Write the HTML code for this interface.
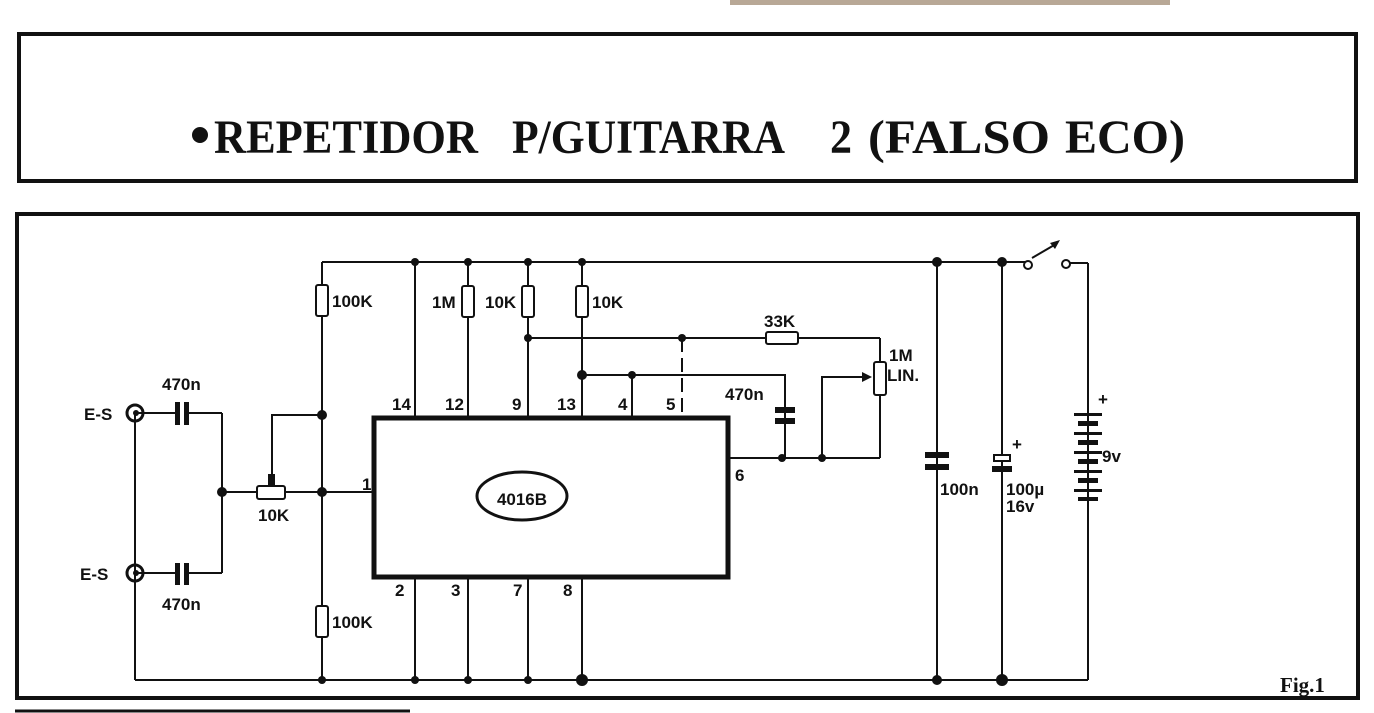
<!DOCTYPE html>
<html><head><meta charset="utf-8"><style>
html,body{margin:0;padding:0;background:#fff;}
svg{display:block;}
.t{font-family:"Liberation Sans",sans-serif;font-weight:bold;font-size:17px;fill:#111;}
.h{font-family:"Liberation Serif",serif;font-weight:bold;font-size:48px;fill:#111;}
</style></head><body>
<svg width="1374" height="713" viewBox="0 0 1374 713" xmlns="http://www.w3.org/2000/svg">
<rect width="1374" height="713" fill="#fff"/>
<rect x="730" y="0" width="440" height="5" fill="#b8a896"/>
<rect x="19" y="34" width="1337" height="147" fill="none" stroke="#111" stroke-width="4"/>
<circle cx="200" cy="135" r="8" fill="#111"/>
<text x="214" y="153" class="h" textLength="264" lengthAdjust="spacingAndGlyphs">REPETIDOR</text>
<text x="512" y="153" class="h" textLength="273" lengthAdjust="spacingAndGlyphs">P/GUITARRA</text>
<text x="830" y="153" class="h" textLength="22" lengthAdjust="spacingAndGlyphs">2</text>
<text x="868" y="153" class="h" textLength="182" lengthAdjust="spacingAndGlyphs">(FALSO</text>
<text x="1065" y="153" class="h" textLength="120" lengthAdjust="spacingAndGlyphs">ECO)</text>
<rect x="17" y="214" width="1341" height="484" fill="none" stroke="#111" stroke-width="4"/>
<line x1="15" y1="711" x2="410" y2="711" stroke="#111" stroke-width="3"/>
<g stroke="#111" stroke-width="2" fill="none">
<line x1="322" y1="262" x2="1028" y2="262"/>
<line x1="1065" y1="263" x2="1088" y2="263"/><line x1="1088" y1="263" x2="1088" y2="680"/>
<line x1="135" y1="680" x2="1088" y2="680"/>
<line x1="322" y1="262" x2="322" y2="680"/>
<line x1="135" y1="413" x2="135" y2="680"/>
<line x1="135" y1="413" x2="176" y2="413"/><line x1="188" y1="413" x2="222" y2="413"/>
<line x1="135" y1="573" x2="176" y2="573"/><line x1="188" y1="573" x2="222" y2="573"/>
<line x1="222" y1="413" x2="222" y2="573"/>
<line x1="222" y1="492" x2="374" y2="492"/>
<polyline points="272,486 272,415 322,415"/>
<line x1="415" y1="262" x2="415" y2="680"/>
<line x1="468" y1="262" x2="468" y2="680"/>
<line x1="528" y1="262" x2="528" y2="680"/>
<line x1="582" y1="262" x2="582" y2="680"/>
<line x1="632" y1="375" x2="632" y2="417"/>
<line x1="682" y1="338" x2="682" y2="417" stroke-dasharray="14,6"/>
<line x1="528" y1="338" x2="880" y2="338"/>
<line x1="880" y1="338" x2="880" y2="458"/>
<polyline points="582,375 785,375 785,458"/>
<line x1="728" y1="458" x2="880" y2="458"/>
<polyline points="822,458 822,377 868,377"/>
<line x1="937" y1="262" x2="937" y2="680"/>
<line x1="1002" y1="262" x2="1002" y2="680"/>
<line x1="1032" y1="258" x2="1056" y2="244"/>
</g>
<rect x="374" y="418" width="354" height="159" fill="#fff" stroke="#111" stroke-width="5"/>
<g fill="#fff" stroke="#111" stroke-width="2">
<rect x="316" y="285" width="12" height="31" rx="2"/>
<rect x="316" y="606" width="12" height="31" rx="2"/>
<rect x="462" y="286" width="12" height="31" rx="2"/>
<rect x="522" y="286" width="12" height="31" rx="2"/>
<rect x="576" y="286" width="12" height="31" rx="2"/>
<rect x="766" y="332" width="32" height="12" rx="2"/>
<rect x="874" y="362" width="12" height="33" rx="2"/>
<rect x="257" y="486" width="28" height="13" rx="2"/>
<rect x="994" y="455" width="16" height="6"/>
<circle cx="1028" cy="265" r="4"/><circle cx="1066" cy="264" r="4"/>
</g>
<g fill="#111">
<rect x="175" y="402" width="5" height="23"/><rect x="184" y="402" width="5" height="23"/>
<rect x="175" y="563" width="5" height="22"/><rect x="184" y="563" width="5" height="22"/>
<rect x="775" y="407" width="20" height="6"/><rect x="775" y="418" width="20" height="6"/>
<rect x="925" y="452" width="24" height="6"/><rect x="925" y="464" width="24" height="6"/>
<rect x="992" y="466" width="20" height="6"/>
<rect x="268" y="474" width="7" height="12"/>
<polygon points="862,372 872,377 862,382"/>
<polygon points="1050,243 1060,240 1055,249"/>
<rect x="1074" y="413" width="28" height="3"/><rect x="1078" y="421" width="20" height="5"/>
<rect x="1074" y="432" width="28" height="3"/><rect x="1078" y="440" width="20" height="5"/>
<rect x="1074" y="451" width="28" height="3"/><rect x="1078" y="459" width="20" height="5"/>
<rect x="1074" y="470" width="28" height="3"/><rect x="1078" y="478" width="20" height="5"/>
<rect x="1074" y="489" width="28" height="3"/><rect x="1078" y="497" width="20" height="4"/>
<circle cx="415" cy="262" r="4"/><circle cx="468" cy="262" r="4"/><circle cx="528" cy="262" r="4"/><circle cx="582" cy="262" r="4"/>
<circle cx="937" cy="262" r="5"/><circle cx="1002" cy="262" r="5"/>
<circle cx="322" cy="680" r="4"/><circle cx="415" cy="680" r="4"/><circle cx="468" cy="680" r="4"/><circle cx="528" cy="680" r="4"/><circle cx="582" cy="680" r="6"/>
<circle cx="937" cy="680" r="5"/><circle cx="1002" cy="680" r="6"/>
<circle cx="322" cy="415" r="5"/><circle cx="322" cy="492" r="5"/><circle cx="222" cy="492" r="5"/>
<circle cx="528" cy="338" r="4"/><circle cx="682" cy="338" r="4"/>
<circle cx="582" cy="375" r="5"/><circle cx="632" cy="375" r="4"/>
<circle cx="782" cy="458" r="4"/><circle cx="822" cy="458" r="4"/>
</g>
<ellipse cx="522" cy="496" rx="45" ry="24" fill="none" stroke="#111" stroke-width="3"/>
<text x="522" y="505" text-anchor="middle" class="t" font-size="24">4016B</text>
<g fill="none" stroke="#111" stroke-width="3">
<circle cx="135" cy="413" r="8"/><circle cx="135" cy="573" r="8"/>
</g>
<circle cx="136" cy="413" r="3" fill="#111"/><circle cx="136" cy="573" r="3" fill="#111"/>
<text x="84" y="420" class="t">E-S</text>
<text x="80" y="580" class="t">E-S</text>
<text x="162" y="390" class="t">470n</text>
<text x="162" y="610" class="t">470n</text>
<text x="258" y="521" class="t">10K</text>
<text x="332" y="307" class="t">100K</text>
<text x="332" y="628" class="t">100K</text>
<text x="432" y="308" class="t">1M</text>
<text x="485" y="308" class="t">10K</text>
<text x="592" y="308" class="t">10K</text>
<text x="392" y="410" class="t">14</text>
<text x="445" y="410" class="t">12</text>
<text x="512" y="410" class="t">9</text>
<text x="557" y="410" class="t">13</text>
<text x="618" y="410" class="t">4</text>
<text x="666" y="410" class="t">5</text>
<text x="362" y="490" class="t">1</text>
<text x="395" y="596" class="t">2</text>
<text x="451" y="596" class="t">3</text>
<text x="513" y="596" class="t">7</text>
<text x="563" y="596" class="t">8</text>
<text x="735" y="481" class="t">6</text>
<text x="764" y="327" class="t">33K</text>
<text x="889" y="361" class="t">1M</text>
<text x="887" y="381" class="t">LIN.</text>
<text x="725" y="400" class="t">470n</text>
<text x="940" y="495" class="t">100n</text>
<text x="1006" y="495" class="t">100µ</text>
<text x="1006" y="512" class="t">16v</text>
<text x="1012" y="450" class="t" font-size="22">+</text>
<text x="1098" y="405" class="t" font-size="22">+</text>
<text x="1102" y="462" class="t">9v</text>
<text x="1280" y="692" font-family="Liberation Serif,serif" font-weight="bold" font-size="21" fill="#111">Fig.1</text>
</svg>
</body></html>
